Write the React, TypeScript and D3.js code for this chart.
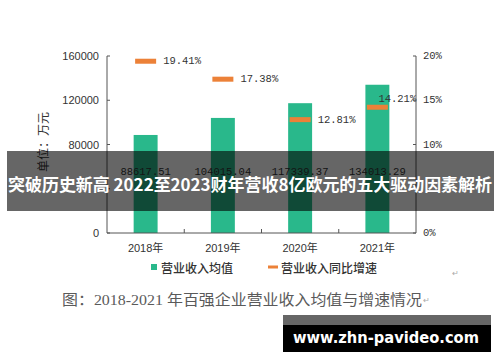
import React from "react";
import * as d3 from "d3";

const years = ["2018年", "2019年", "2020年", "2021年"];
const revenue = [88617.51, 104015.04, 117339.37, 134013.29];
const revenueLabels = ["88617.51", "104015.04", "117339.37", "134013.29"];
const growth = [19.41, 17.38, 12.81, 14.21];
const growthLabels = ["19.41%", "17.38%", "12.81%", "14.21%"];
const leftTicks = [0, 40000, 80000, 120000, 160000];
const leftTickLabels = ["0", "", "80000", "120000", "160000"];
const rightTicks = [0, 5, 10, 15, 20];
const rightTickLabels = ["0%", "", "10%", "15%", "20%"];
const legendLabels = ["营业收入均值", "营业收入同比增速"];
const title = "突破历史新高 2022至2023财年营收8亿欧元的五大驱动因素解析";
const caption = "图：2018-2021 年百强企业营业收入均值与增速情况";
const watermark = "www.zhn-pavideo.com";
const axisTitle = "单位：万元";

const GREEN = "#29b88b";
const ORANGE = "#ec8138";
const AXIS = "#555";
const TXT = "#333";
const MONO = "'Liberation Mono', 'DejaVu Sans Mono', monospace";
const SANS = "'Liberation Sans', Arial, sans-serif";
const CJK = "'Noto Sans CJK SC', sans-serif";

export default function App() {
  const W = 500, H = 362;
  const left = 107, right = 416, top = 56, bottom = 233;
  const x = d3.scaleBand<string>().domain(years).range([left, right]).padding(0);
  const bw = x.bandwidth();
  const barW = bw * 0.31;
  const yL = d3.scaleLinear().domain([0, 160000]).range([bottom, top]);
  const yR = d3.scaleLinear().domain([0, 20]).range([bottom, top]);
  const markW = 21;

  return (
    <svg width={W} height={H} style={{ position: "absolute", left: 0, top: 0, background: "#fff" }}>
      <rect x={0} y={0} width={W} height={H} fill="#fff" />
      {years.map((c, i) => (
        <rect key={c} x={x(c)! + bw / 2 - barW / 2} y={yL(revenue[i])} width={barW}
          height={bottom - yL(revenue[i])} fill={GREEN} />
      ))}
      {years.map((c, i) => (
        <text key={c} x={x(c)! + bw / 2} y={172} textAnchor="middle" dominantBaseline="central"
          fontFamily={MONO} fontSize={10.5} fill={TXT}>{revenueLabels[i]}</text>
      ))}
      {years.map((c, i) => (
        <rect key={c} x={x(c)! + bw / 2 - markW / 2} y={yR(growth[i]) - 2.5} width={markW} height={5}
          fill={ORANGE} />
      ))}
      {years.map((c, i) => {
        const last = i === years.length - 1;
        const cx = x(c)! + bw / 2;
        return (
          <text key={c} x={last ? cx + 1 : cx + markW / 2 + 7} y={last ? yR(growth[i]) - 8 : yR(growth[i])}
            dominantBaseline="central" fontFamily={MONO} fontSize={10.5} fill={TXT}>{growthLabels[i]}</text>
        );
      })}
      <line x1={left} x2={left} y1={top} y2={bottom} stroke={AXIS} strokeWidth={1} />
      <line x1={right} x2={right} y1={top} y2={bottom} stroke={AXIS} strokeWidth={1} />
      <line x1={left} x2={right} y1={bottom} y2={bottom} stroke={AXIS} strokeWidth={1} />
      {leftTicks.map((t, i) => (
        <g key={t}>
          <line x1={left} x2={left + 3} y1={yL(t)} y2={yL(t)} stroke={AXIS} />
          {leftTickLabels[i] && (
            <text x={99} y={yL(t)} textAnchor="end" dominantBaseline="central" fontFamily={SANS}
              fontSize={11} fill={TXT}>{leftTickLabels[i]}</text>
          )}
        </g>
      ))}
      {rightTicks.map((t, i) => (
        <g key={t}>
          <line x1={right - 3} x2={right} y1={yR(t)} y2={yR(t)} stroke={AXIS} />
          {rightTickLabels[i] && (
            <text x={423} y={yR(t)} dominantBaseline="central" fontFamily={MONO}
              fontSize={10.5} fill={TXT}>{rightTickLabels[i]}</text>
          )}
        </g>
      ))}
      {years.slice(1).map((c) => (
        <line key={c} x1={x(c)!} x2={x(c)!} y1={bottom} y2={bottom - 4} stroke={AXIS} />
      ))}
      {years.map((c) => (
        <text key={c} x={x(c)! + bw / 2} y={248} textAnchor="middle" dominantBaseline="central"
          fontFamily={`'Liberation Sans', ${CJK}`} fontSize={11} fill={TXT}>{c}</text>
      ))}
      <text transform="translate(42,142) rotate(-90)" textAnchor="middle" dominantBaseline="central"
        fontFamily={CJK} fontSize={12} fill={TXT}>{axisTitle}</text>
      <rect x={151} y={264} width={6} height={6} fill={GREEN} />
      <text x={161} y={267} dominantBaseline="central" fontFamily={CJK} fontSize={12} fontWeight={500} fill={TXT}>{legendLabels[0]}</text>
      <rect x={268} y={265.5} width={10} height={3} fill={ORANGE} />
      <text x={281} y={267} dominantBaseline="central" fontFamily={CJK} fontSize={12} fontWeight={500} fill={TXT}>{legendLabels[1]}</text>
      <text x={452} y={276} fontSize={8} fill="#aaa" fontFamily={SANS}>↵</text>
      <text x={62} y={300} dominantBaseline="central" fontFamily={`'Liberation Serif', ${CJK}`} fontSize={15}
        fill="#5a5a5a" textLength={360} lengthAdjust="spacingAndGlyphs">{caption}</text>
      <text x={423} y={303} fontSize={8} fill="#aaa" fontFamily={SANS}>↵</text>
      <rect x={7} y={151} width={487} height={60} fill="rgba(0,0,0,0.6)" />
      <text x={8} y={183} dominantBaseline="central" fontFamily={CJK} fontWeight="bold" fontSize={17}
        fill="#fff" textLength={484} lengthAdjust="spacingAndGlyphs">{title}</text>
      <rect x={283} y={315} width={208} height={10} fill="#666" />
      <rect x={283} y={325} width={208} height={27} fill="#000" />
      <text x={293} y={337} dominantBaseline="central" fontFamily="'DejaVu Sans', sans-serif" fontWeight="bold"
        fontSize={16} fill="#fff" textLength={186} lengthAdjust="spacingAndGlyphs">{watermark}</text>
    </svg>
  );
}
